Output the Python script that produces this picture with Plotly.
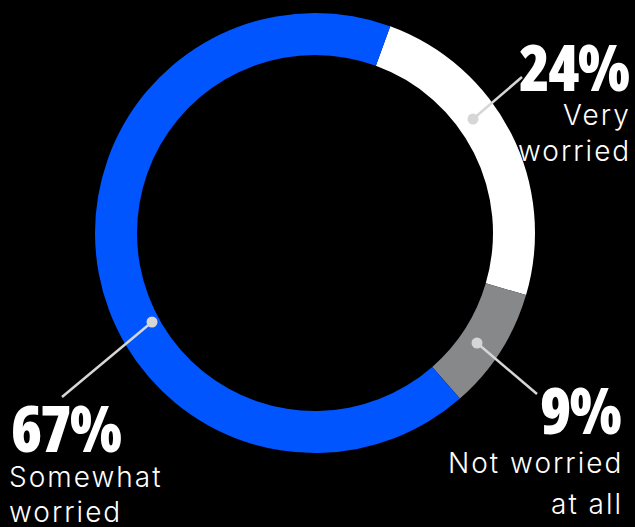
import plotly.graph_objects as go

# Survey shares, in clockwise order from the top of the ring
categories = ["Very worried", "Not worried at all", "Somewhat worried"]
values = [24, 9, 67]
pct_labels = ["24%", "9%", "67%"]
desc_lines = [["Very", "worried"], ["Not worried", "at all"], ["Somewhat", "worried"]]
colors = ["#ffffff", "#87888a", "#0055ff"]

W, H = 635, 527
CX, CY, R_OUT, R_IN = 315, 233, 220, 178


def px(x):
    return x / W


def py(y):
    return 1 - y / H


fig = go.Figure(go.Pie(
    labels=categories,
    values=values,
    marker=dict(colors=colors, line=dict(width=0)),
    hole=R_IN / R_OUT,
    sort=False,
    direction="clockwise",
    rotation=20,
    textinfo="none",
    hoverinfo="label+percent",
    domain=dict(x=[px(CX - R_OUT), px(CX + R_OUT)],
                y=[py(CY + R_OUT), py(CY - R_OUT)]),
    showlegend=False,
))

# Callout placement (pixels): dot on the ring, end of leader,
# big-number anchor, caption anchor with per-line vertical centres
callouts = [
    dict(dot=(473, 119), end=(522, 77), num=(631, 66), cap_x=633, cap_y=[115, 151], side="right"),
    dict(dot=(477, 343), end=(537, 394), num=(623, 409), cap_x=625, cap_y=[463, 504], side="right"),
    dict(dot=(152, 322), end=(62, 397), num=(9, 427), cap_x=7, cap_y=[477, 512], side="left"),
]

LEADER = "#d6d6d6"
shapes, annotations = [], []
for i, c in enumerate(callouts):
    (dx, dy), (ex, ey) = c["dot"], c["end"]
    shapes.append(dict(type="line", xref="paper", yref="paper",
                       x0=px(dx), y0=py(dy), x1=px(ex), y1=py(ey),
                       line=dict(color=LEADER, width=2.5)))
    r = 5.5
    shapes.append(dict(type="circle", xref="paper", yref="paper",
                       x0=px(dx - r), x1=px(dx + r), y0=py(dy + r), y1=py(dy - r),
                       fillcolor=LEADER, line=dict(width=0)))
    side = c["side"]
    nx, ny = c["num"]
    annotations.append(dict(
        text=f"<span style='font-stretch:condensed;letter-spacing:-2px'>{pct_labels[i]}</span>",
        x=px(nx), y=py(ny), xref="paper", yref="paper",
        xanchor=side, yanchor="middle", showarrow=False, align=side,
        font=dict(family="Open Sans", size=63, weight=800, color="#ffffff")))
    for line, ly in zip(desc_lines[i], c["cap_y"]):
        annotations.append(dict(
            text=f"<span style='letter-spacing:2px'>{line}</span>",
            x=px(c["cap_x"]), y=py(ly), xref="paper", yref="paper",
            xanchor=side, yanchor="middle", showarrow=False, align=side,
            font=dict(family="Inter", size=28, weight=300, color="#ffffff")))

fig.update_layout(
    width=W, height=H,
    margin=dict(l=0, r=0, t=0, b=0),
    paper_bgcolor="#000000",
    plot_bgcolor="#000000",
    shapes=shapes,
    annotations=annotations,
)

fig.write_html("out.html")
